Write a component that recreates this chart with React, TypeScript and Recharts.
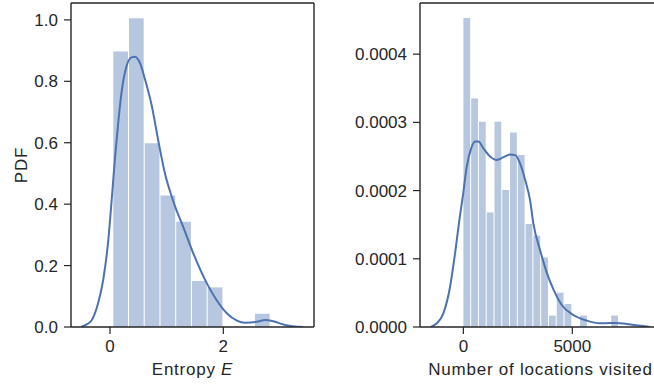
import { ComposedChart, Bar, Line, XAxis, YAxis, Label } from 'recharts';

// left panel: entropy histogram + kde
const entropyBinCenters = [0.197, 0.474, 0.752, 1.03, 1.307, 1.585, 1.863, 2.14, 2.418, 2.696];
const entropyBinDensity = [0.897, 1.005, 0.598, 0.428, 0.343, 0.15, 0.129, 0, 0, 0.043];
const entropyKdeX = [-0.51, -0.42, -0.32, -0.21, -0.12, -0.03, 0.03, 0.09, 0.15, 0.21, 0.29, 0.38, 0.44, 0.53, 0.62, 0.74, 0.85, 0.97, 1.08, 1.15, 1.29, 1.47, 1.71, 1.88, 2.06, 2.24, 2.38, 2.59, 2.74, 2.91, 3.09, 3.25, 3.41];
const entropyKdeY = [0, 0.008, 0.023, 0.077, 0.153, 0.283, 0.414, 0.555, 0.674, 0.772, 0.848, 0.878, 0.88, 0.859, 0.805, 0.718, 0.609, 0.5, 0.43, 0.392, 0.327, 0.24, 0.142, 0.088, 0.045, 0.021, 0.014, 0.017, 0.023, 0.017, 0.0065, 0.002, 0];
const entropyTicksX = [0, 2];
const entropyTicksY = [0, 0.2, 0.4, 0.6, 0.8, 1.0];

// right panel: number of locations visited
const locBinCenters = [179, 536, 893, 1250, 1607, 1964, 2321, 2678, 3035, 3392, 3749, 4106, 4463, 4820, 5177, 5534, 5891, 6248, 6605, 6962];
const locBinDensity = [0.000453, 0.000335, 0.000301, 0.000168, 0.000301, 0.000201, 0.000285, 0.000252, 0.000151, 0.000134, 0.000102, 0.0000168, 0.0000503, 0.0000337, 0, 0.0000168, 0, 0, 0, 0.0000168];
const locKdeX = [-1490, -1220, -917, -610, -381, -183, -28, 156, 339, 537, 688, 918, 1225, 1532, 1835, 2142, 2372, 2601, 2850, 3060, 3211, 3518, 3839, 4142, 4514, 5046, 5661, 6271, 6700, 7037, 7495, 8106, 8567];
const locKdeY = [0, 0.0000054, 0.00002, 0.000059, 0.000108, 0.000157, 0.000191, 0.000235, 0.00026, 0.000272, 0.000272, 0.000262, 0.00025, 0.000245, 0.000249, 0.000253, 0.000252, 0.00024, 0.000214, 0.000186, 0.000152, 0.000113, 0.0000787, 0.0000543, 0.0000323, 0.0000176, 0.0000093, 0.0000054, 0.0000058, 0.000006, 0.0000044, 0.0000019, 0];
const locTicksX = [0, 5000];
const locTicksY = [0, 0.0001, 0.0002, 0.0003, 0.0004];

const INK = '#262626';
const LINE = '#4C72B0';
const BAR = '#B7C7DF';
const FONT = '"Liberation Sans", Arial, sans-serif';

const tickStyle = { fill: INK, fontSize: 17, fontFamily: FONT };

type PanelProps = {
    left: number;
    width: number;
    yAxisWidth: number;
    marginRight: number;
    xDomain: [number, number];
    yDomain: [number, number];
    binCenters: number[];
    binDensity: number[];
    kdeX: number[];
    kdeY: number[];
    ticksX: number[];
    ticksY: number[];
    yFormat: (v: number) => string;
    xLabel: React.ReactNode;
    yLabel?: string;
};

const Panel = (p: PanelProps) => {
    const height = 384;
    const xAxisHeight = 57;
    // frame axes (top / right) take 1px each
    const plotWidth = p.width - p.yAxisWidth - p.marginRight - 1;
    const binWidth = p.binCenters[1] - p.binCenters[0];
    const barPx = (plotWidth * binWidth) / (p.xDomain[1] - p.xDomain[0]) - 1;

    const bins = p.binCenters.map((x, i) => ({ x, density: p.binDensity[i] }));
    const kde = p.kdeX.map((x, i) => ({ x, density: p.kdeY[i] }));

    return (
        <div style={{ position: 'absolute', left: p.left, top: 0 }}>
            <ComposedChart
                width={p.width}
                height={height}
                data={bins}
                margin={{ top: 2, right: p.marginRight, bottom: 0, left: 0 }}
            >
                <XAxis xAxisId="hist" type="number" dataKey="x" domain={p.xDomain} allowDataOverflow hide height={0} />
                <XAxis
                    xAxisId="kde"
                    type="number"
                    dataKey="x"
                    domain={p.xDomain}
                    allowDataOverflow
                    ticks={p.ticksX}
                    height={xAxisHeight}
                    tickSize={7}
                    tickMargin={6}
                    tick={tickStyle}
                    axisLine={{ stroke: INK, strokeWidth: 1.4 }}
                    tickLine={{ stroke: INK, strokeWidth: 1.2 }}
                >
                    <Label
                        content={({ viewBox }: any) => (
                            <text
                                x={viewBox.x + viewBox.width / 2}
                                y={viewBox.y + 48}
                                textAnchor="middle"
                                fill={INK}
                                fontSize={17}
                                fontFamily={FONT}
                                letterSpacing={0.75}
                            >
                                {p.xLabel}
                            </text>
                        )}
                    />
                </XAxis>
                <XAxis
                    xAxisId="top"
                    orientation="top"
                    type="number"
                    domain={[0, 1]}
                    height={1}
                    tick={false}
                    tickLine={false}
                    axisLine={{ stroke: INK, strokeWidth: 1.4 }}
                />
                <YAxis
                    type="number"
                    domain={p.yDomain}
                    allowDataOverflow
                    ticks={p.ticksY}
                    width={p.yAxisWidth}
                    tickSize={7}
                    tickMargin={6}
                    tick={tickStyle}
                    tickFormatter={p.yFormat}
                    axisLine={{ stroke: INK, strokeWidth: 1.4 }}
                    tickLine={{ stroke: INK, strokeWidth: 1.2 }}
                >
                    {p.yLabel && (
                        <Label
                            content={({ viewBox }: any) => (
                                <text
                                    transform={`translate(${viewBox.x + 27}, ${viewBox.y + viewBox.height / 2}) rotate(-90)`}
                                    textAnchor="middle"
                                    fill={INK}
                                    fontSize={17}
                                    fontFamily={FONT}
                                    letterSpacing={0.75}
                                >
                                    {p.yLabel}
                                </text>
                            )}
                        />
                    )}
                </YAxis>
                <YAxis
                    yAxisId="right"
                    orientation="right"
                    type="number"
                    domain={[0, 1]}
                    width={1}
                    tick={false}
                    tickLine={false}
                    axisLine={{ stroke: INK, strokeWidth: 1.4 }}
                />
                <Bar
                    xAxisId="hist"
                    dataKey="density"
                    fill={BAR}
                    barSize={barPx}
                    isAnimationActive={false}
                />
                <Line
                    xAxisId="kde"
                    data={kde}
                    dataKey="density"
                    type="monotone"
                    stroke={LINE}
                    strokeWidth={2}
                    dot={false}
                    activeDot={false}
                    isAnimationActive={false}
                />
            </ComposedChart>
        </div>
    );
};

export default function App() {
    return (
        <div
            style={{
                position: 'absolute',
                left: 0,
                top: 0,
                width: 654,
                height: 384,
                overflow: 'hidden',
                background: '#fff',
            }}
        >
            <Panel
                left={0}
                width={330}
                yAxisWidth={71}
                marginRight={15}
                xDomain={[-0.688, 3.6]}
                yDomain={[0, 1.055]}
                binCenters={entropyBinCenters}
                binDensity={entropyBinDensity}
                kdeX={entropyKdeX}
                kdeY={entropyKdeY}
                ticksX={entropyTicksX}
                ticksY={entropyTicksY}
                yFormat={(v) => v.toFixed(1)}
                xLabel={<>Entropy <tspan fontStyle="italic">E</tspan></>}
                yLabel="PDF"
            />
            <Panel
                left={330}
                width={332}
                yAxisWidth={90}
                marginRight={0}
                xDomain={[-1990, 9069]}
                yDomain={[0, 0.000475]}
                binCenters={locBinCenters}
                binDensity={locBinDensity}
                kdeX={locKdeX}
                kdeY={locKdeY}
                ticksX={locTicksX}
                ticksY={locTicksY}
                yFormat={(v) => v.toFixed(4)}
                xLabel="Number of locations visited"
            />
        </div>
    );
}
